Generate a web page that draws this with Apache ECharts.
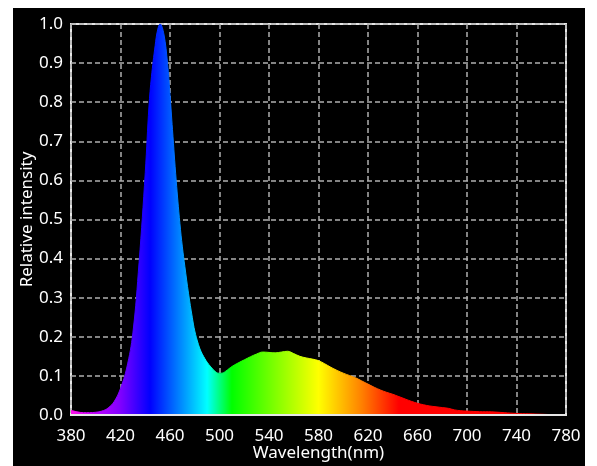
<!DOCTYPE html>
<html>
<head>
<meta charset="utf-8">
<script src="https://cdn.jsdelivr.net/npm/echarts@6/dist/echarts.min.js"></script>
<style>
	html, body { margin: 0; padding: 0; background: #fff; }
	#spectrum { position: absolute; left: 13px; top: 8px; width: 572px; height: 458px; background: #000; }
</style>
</head>
<body>
<div id="spectrum"></div>
<script>
// wavelength axis starts here, labels every 40 nm
var X_START = 380;
var X_END = 780;
var xTicks = [380, 420, 460, 500, 540, 580, 620, 660, 700, 740, 780];

// wavelength (nm)
var wavelength = [
	380, 385, 390, 395, 400, 405, 410, 415, 420, 425,
	430, 435, 440, 443, 445, 448, 450, 452, 455, 458,
	460, 462, 465, 468, 470, 472, 475, 478, 480, 483,
	485, 488, 490, 493, 496, 499, 502, 505, 510, 515,
	520, 525, 530, 535, 540, 545, 550, 555, 560, 565,
	570, 575, 580, 585, 590, 595, 600, 605, 610, 615,
	620, 625, 630, 635, 640, 645, 650, 655, 660, 665,
	670, 675, 680, 685, 690, 695, 700, 710, 720, 730,
	740, 750, 760, 770, 780
];
// relative intensity at each wavelength
var intensity = [
	0.012, 0.008, 0.006, 0.006, 0.007, 0.010, 0.018, 0.035, 0.068, 0.120,
	0.210, 0.390, 0.620, 0.790, 0.865, 0.945, 0.985, 1.000, 0.975, 0.900,
	0.820, 0.730, 0.600, 0.490, 0.430, 0.380, 0.310, 0.250, 0.215, 0.180,
	0.163, 0.145, 0.135, 0.123, 0.113, 0.107, 0.107, 0.112, 0.124, 0.133,
	0.141, 0.149, 0.156, 0.161, 0.160, 0.159, 0.161, 0.163, 0.157, 0.150,
	0.146, 0.143, 0.139, 0.131, 0.122, 0.114, 0.107, 0.101, 0.095, 0.087,
	0.079, 0.071, 0.064, 0.058, 0.053, 0.047, 0.041, 0.035, 0.030, 0.026,
	0.023, 0.021, 0.019, 0.017, 0.013, 0.011, 0.010, 0.0085, 0.008, 0.006,
	0.004, 0.003, 0.002, 0.001, 0.001
];

var font = 'Noto Sans';

// offset the data so the ticks start at 380
var points = [];
for (var i = 0; i < wavelength.length; i++) {
	points.push([wavelength[i] - X_START, intensity[i]]);
}

// spectrum colours along the wavelength
function stop(nm, color) {
	return { offset: (nm - X_START) / (X_END - X_START), color: color };
}
var spectrumStops = [
	stop(380, '#ff10e8'),
	stop(400, '#c000ff'),
	stop(420, '#8000ff'),
	stop(444, '#0000ff'),
	stop(490, '#00ffff'),
	stop(510, '#00ff00'),
	stop(545, '#80ff00'),
	stop(580, '#ffff00'),
	stop(615, '#ff8000'),
	stop(645, '#ff0000'),
	stop(780, '#ff0000')
];

var chart = echarts.init(document.getElementById('spectrum'));
var option = {
	backgroundColor: '#000',
	animation: false,
	grid: {
		left: 58,
		right: 19,
		top: 16,
		bottom: 51,
		outerBoundsMode: 'none',
		show: true,
		borderColor: '#e6e6e6',
		borderWidth: 2
	},
	xAxis: [{
		type: 'value',
		min: 0,
		max: X_END - X_START,
		interval: 40,
		name: 'Wavelength(nm)',
		nameLocation: 'middle',
		nameGap: 30,
		nameMoveOverlap: false,
		nameTextStyle: { color: '#fff', fontSize: 17, fontFamily: font },
		axisLine: { show: false },
		axisTick: { show: false },
		axisLabel: {
			color: '#fff',
			fontSize: 17,
			fontFamily: font,
			margin: 13,
			formatter: function (v) {
				var nm = v + X_START;
				return xTicks.indexOf(nm) >= 0 ? String(nm) : '';
			}
		},
		splitLine: {
			show: true,
			lineStyle: { color: '#b0b0b0', type: [5, 3], width: 1.5 }
		}
	}, {
		// bottom border drawn above the area
		type: 'value',
		position: 'bottom',
		min: 0,
		max: X_END - X_START,
		z: 5,
		axisLine: { show: true, onZero: false, lineStyle: { color: '#e6e6e6', width: 2 } },
		axisTick: { show: false },
		axisLabel: { show: false },
		splitLine: { show: false }
	}],
	yAxis: {
		type: 'value',
		min: 0,
		max: 1,
		interval: 0.1,
		name: 'Relative intensity',
		nameLocation: 'middle',
		nameGap: 35,
		nameMoveOverlap: false,
		nameTextStyle: { color: '#fff', fontSize: 17, fontFamily: font },
		axisLine: { show: false },
		axisTick: { show: false },
		axisLabel: {
			color: '#fff',
			fontSize: 17,
			fontFamily: font,
			margin: 8,
			formatter: function (v) { return v.toFixed(1); }
		},
		splitLine: {
			show: true,
			lineStyle: { color: '#b0b0b0', type: [5, 3], width: 1.5 }
		}
	},
	series: [{
		type: 'line',
		data: points,
		smooth: 0.4,
		symbol: 'none',
		lineStyle: {
			width: 1,
			color: new echarts.graphic.LinearGradient(0, 0, 1, 0, spectrumStops)
		},
		areaStyle: {
			opacity: 1,
			color: new echarts.graphic.LinearGradient(0, 0, 1, 0, spectrumStops)
		}
	}]
};
chart.setOption(option);
</script>
</body>
</html>
